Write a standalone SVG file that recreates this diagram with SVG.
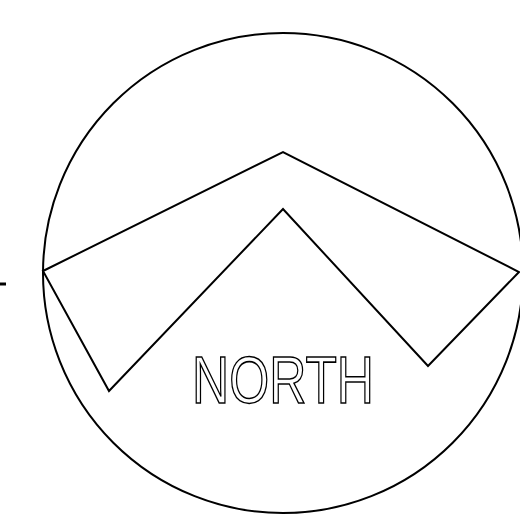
<svg xmlns="http://www.w3.org/2000/svg" width="520" height="531" viewBox="0 0 520 531">
<style>
.ln{fill:none;stroke:#000;stroke-width:2;stroke-linejoin:miter}
.lbl{font-family:"Liberation Sans",Arial,sans-serif;font-size:67px;fill:#fff;stroke:#000;stroke-width:1.6}
</style>
<rect width="520" height="531" fill="#fff"/>
<g id="compass">
<circle class="ln" cx="283" cy="273" r="240"/>
</g>
<g id="connectors">
<line x1="0" y1="284" x2="6" y2="284" stroke="#000" stroke-width="3"/>
</g>
<g id="arrow">
<polygon class="ln" points="43,271 283,152 519,272 428,366 283,209 109,391"/>
</g>
<g id="label">
<text class="lbl" x="192" y="403" textLength="182" lengthAdjust="spacingAndGlyphs">NORTH</text>
</g>
</svg>
